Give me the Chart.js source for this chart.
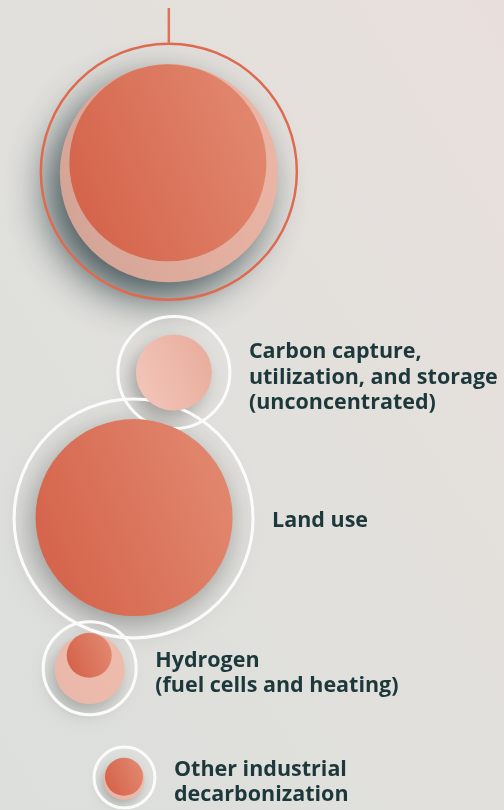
<!DOCTYPE html>
<html>
<head>
<meta charset="utf-8">
<script src="https://cdn.jsdelivr.net/npm/chart.js@4"></script>
<style>
  html, body { margin: 0; padding: 0; }
  body {
    width: 504px; height: 810px; overflow: hidden;
    background: linear-gradient(to top right, #dcdfdc 0%, #e2e0dc 55%, #e8dfdc 100%);
  }
  #chart { display: block; }
</style>
</head>
<body>
<canvas id="chart" width="504" height="810"></canvas>
<script>
// categories, top to bottom (label lines)
const categories = [
  [],
  ['Carbon capture,', 'utilization, and storage', '(unconcentrated)'],
  ['Land use'],
  ['Hydrogen', '(fuel cells and heating)'],
  ['Other industrial', 'decarbonization']
]

// bubble centres (x: 0-100 across, y: 0-100 down)
const ringX = [33.5, 34.5, 26.5, 17.8, 24.7]
const ringY = [21.2, 46.0, 64.0, 82.5, 96.0]
const paleX = [33.5, 34.5, null, 17.8, 24.6]
const paleY = [21.4, 46.0, null, 82.6, 96.2]
const coreX = [33.3, null, 26.6, 17.7, 24.6]
const coreY = [20.1, null, 63.9, 80.9, 95.9]

// bubble sizes
const ringSize = [128, 56, 119.5, 46.5, 30.5]
const paleSize = [109, 38, null, 35, 20.5]
const coreSize = [98.5, null, 98.5, 22.5, 19]

function points(xs, ys, rs) {
  let out = []
  xs.forEach(function(x, i) {
    if (x !== null && rs[i] !== null) out.push({x: x, y: ys[i], r: rs[i], idx: i})
  })
  return out
}

function circleGradient(stops) {
  return function(ctx) {
    if (ctx.type !== 'data' || !ctx.raw) return stops[0]
    const chart = ctx.chart
    const p = ctx.raw
    const cx = chart.scales.x ? chart.scales.x.getPixelForValue(p.x) : NaN
    const cy = chart.scales.y ? chart.scales.y.getPixelForValue(p.y) : NaN
    if (!isFinite(cx) || !isFinite(cy)) return stops[0]
    const g = chart.ctx.createLinearGradient(cx - p.r, cy + p.r * 0.4, cx + p.r, cy - p.r * 0.4)
    g.addColorStop(0, stops[0])
    g.addColorStop(1, stops[1])
    return g
  }
}

const paleColors = [
  ['#d3a496', '#ecb6a6'],
  ['#f2c5b9', '#e8ad9d'],
  null,
  ['#e9b8aa', '#eebcad'],
  ['#ecb4a4', '#eebcad']
]

// soft shadows under pale / core discs, drawn before the bubbles
const shadows = {
  id: 'shadows',
  beforeDatasetsDraw(chart) {
    const c = chart.ctx
    const specs = [
      {ds: 1, idx: 0, color: 'rgba(40,60,65,0.85)', blur: 42, dx: -13, dy: 17},
      {ds: 1, idx: 1, color: 'rgba(0,0,0,0.28)', blur: 18, dx: -6, dy: 8},
      {ds: 0, idx: 2, color: 'rgba(0,0,0,0.34)', blur: 30, dx: -4, dy: 8},
      {ds: 1, idx: 3, color: 'rgba(0,0,0,0.25)', blur: 18, dx: -4, dy: 8},
      {ds: 1, idx: 4, color: 'rgba(0,0,0,0.25)', blur: 12, dx: -3, dy: 5}
    ]
    specs.forEach(function(s) {
      const meta = chart.getDatasetMeta(s.ds)
      const k = chart.data.datasets[s.ds].data.findIndex(function(d) { return d.idx === s.idx })
      const el = meta.data[k]
      if (!el) return
      c.save()
      c.shadowColor = s.color
      c.shadowBlur = s.blur
      c.shadowOffsetX = s.dx
      c.shadowOffsetY = s.dy
      c.fillStyle = '#c9b0a6'
      c.beginPath()
      c.arc(el.x, el.y, el.options.radius - 1, 0, Math.PI * 2)
      c.fill()
      c.restore()
    })
  }
}

// stem above the top ring and the category labels
const labelsPlugin = {
  id: 'labelsPlugin',
  afterDatasetsDraw(chart) {
    const c = chart.ctx
    const meta = chart.getDatasetMeta(2)
    const top = meta.data[0]
    c.save()
    c.strokeStyle = '#df7058'
    c.lineWidth = 2.5
    c.beginPath()
    c.moveTo(top.x, top.y - top.options.radius - 1)
    c.lineTo(top.x, 8)
    c.stroke()

    c.fillStyle = '#1d383b'
    c.font = '700 21.5px "Open Sans", sans-serif'
    c.textBaseline = 'middle'
    const lineH = 25.5
    categories.forEach(function(lines, i) {
      const el = meta.data[i]
      if (!lines.length) return
      const x = el.x + el.options.radius + 19
      const y0 = el.y + 2 + (lines.length > 1 ? 3 : 0) - (lines.length - 1) * lineH / 2
      lines.forEach(function(t, j) { c.fillText(t, x, y0 + j * lineH) })
    })
    c.restore()
  }
}

const ringBorder = ['#de6a50', '#fbfbfb', '#fbfbfb', '#fbfbfb', '#fbfbfb']

const chart = new Chart(document.getElementById('chart'), {
  type: 'bubble',
  data: {
    datasets: [
      {
        label: 'core',
        data: points(coreX, coreY, coreSize),
        backgroundColor: circleGradient(['#d4634a', '#e1886f']),
        borderWidth: 0,
        clip: false
      },
      {
        label: 'pale',
        data: points(paleX, paleY, paleSize),
        backgroundColor: function(ctx) {
          if (ctx.type !== 'data' || !ctx.raw) return '#eebcad'
          return circleGradient(paleColors[ctx.raw.idx])(ctx)
        },
        borderWidth: 0,
        clip: false
      },
      {
        label: 'ring',
        data: points(ringX, ringY, ringSize),
        backgroundColor: 'rgba(0,0,0,0)',
        borderColor: function(ctx) { return ctx.raw ? ringBorder[ctx.raw.idx] : '#fbfbfb' },
        borderWidth: function(ctx) { return ctx.raw && ctx.raw.idx === 0 ? 2.5 : 3 },
        clip: false
      }
    ]
  },
  options: {
    responsive: false,
    animation: false,
    events: [],
    layout: { padding: 0, autoPadding: false },
    plugins: { legend: { display: false }, tooltip: { enabled: false } },
    scales: {
      x: { display: false, min: 0, max: 100 },
      y: { display: false, min: 0, max: 100, reverse: true }
    }
  },
  plugins: [shadows, labelsPlugin]
})
chart.update()
</script>
</body>
</html>
